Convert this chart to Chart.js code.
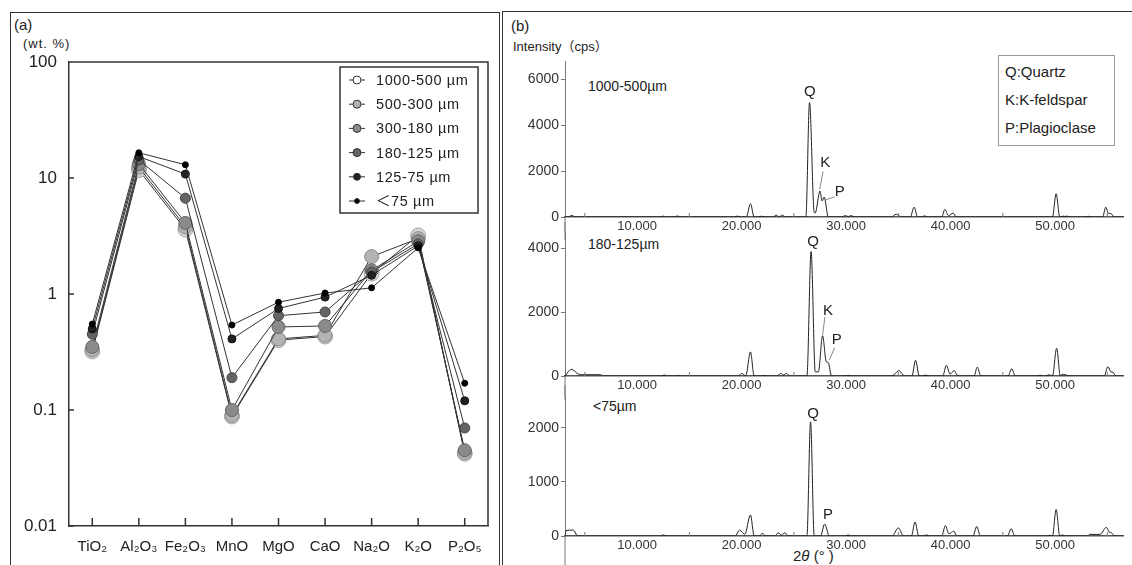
<!DOCTYPE html>
<html>
<head>
<meta charset="utf-8">
<script src="https://cdn.jsdelivr.net/npm/chart.js@4.4.1/dist/chart.umd.min.js"></script>
<style>
  body {
    margin: 0;
    width: 1132px;
    height: 565px;
    overflow: hidden;
    background: #fff;
    position: relative;
    font-family: "Liberation Sans", Arial, "Noto Sans CJK JP", sans-serif;
    color: #222;
  }
  .frame { position: absolute; border: 1.5px solid #333; box-sizing: border-box; }
  .txt { position: absolute; white-space: nowrap; line-height: 1.2; }
  canvas { position: absolute; }
  #xrdKey { position: absolute; left: 998px; top: 55px; width: 117px; height: 91px;
            border: 1px solid #999; box-sizing: border-box; background: #fff; }
</style>
</head>
<body>

<!-- パネル枠 -->
<div class="frame" style="left:10px; top:12px; width:490px; height:600px;"></div>
<div class="frame" style="left:502px; top:11px; width:640px; height:600px;"></div>

<!-- (a) 見出し -->
<div class="txt" style="left:14px; top:16px; font-size:15px;">(a)</div>
<div class="txt" style="left:23px; top:36px; font-size:13px; letter-spacing:1px;">(wt. %)</div>

<!-- (b) 見出し -->
<div class="txt" style="left:511px; top:17px; font-size:15px;">(b)</div>
<div class="txt" style="left:513px; top:39px; font-size:13px;">Intensity（cps）</div>
<div class="txt" style="left:588px; top:78px; font-size:14px;">1000-500µm</div>
<div class="txt" style="left:588px; top:236px; font-size:14px;">180-125µm</div>
<div class="txt" style="left:593px; top:398px; font-size:14px;">&lt;75µm</div>
<div class="txt" style="left:793px; top:547px; font-size:15px;">2<i>θ</i> (° )</div>

<div id="xrdKey">
  <div class="txt" style="left:6px; top:7px; font-size:15px;">Q:Quartz</div>
  <div class="txt" style="left:6px; top:35px; font-size:15px;">K:K-feldspar</div>
  <div class="txt" style="left:6px; top:63px; font-size:15px;">P:Plagioclase</div>
</div>

<canvas id="chartOxide" width="500" height="565" style="left:0; top:0;"></canvas>
<canvas id="chartXrdTop" width="630" height="190" style="left:502px; top:50px;"></canvas>
<canvas id="chartXrdMid" width="630" height="178" style="left:502px; top:222px;"></canvas>
<canvas id="chartXrdLow" width="630" height="180" style="left:502px; top:385px;"></canvas>

<script>
// ------------------------------------------------------
// (a) 粒度別の化学組成（wt.%、対数軸）
// (b) 粒度別の XRD パターン（3 段）
// ------------------------------------------------------

Chart.defaults.font.family = '"Liberation Sans", Arial, "Noto Sans CJK JP", sans-serif'
Chart.defaults.color = '#222'

/* ---------- (a) データ ---------- */

const oxideLabels = ['TiO₂', 'Al₂O₃', 'Fe₂O₃', 'MnO', 'MgO', 'CaO', 'Na₂O', 'K₂O', 'P₂O₅']
const sizeClasses = ['1000-500 µm', '500-300 µm', '300-180 µm', '180-125 µm', '125-75 µm', '＜75 µm']

const wt1000to500 = [0.32, 11.7, 3.6, 0.088, 0.40, 0.43, 1.50, 3.20, 0.042]
const wt500to300 = [0.33, 12.4, 3.8, 0.090, 0.41, 0.44, 2.10, 3.00, 0.043]
const wt300to180 = [0.35, 13.2, 4.1, 0.100, 0.52, 0.53, 1.60, 2.85, 0.045]
const wt180to125 = [0.45, 14.3, 6.7, 0.190, 0.65, 0.70, 1.55, 2.70, 0.070]
const wt125to75 = [0.50, 15.3, 10.8, 0.410, 0.75, 0.94, 1.45, 2.60, 0.120]
const wtBelow75 = [0.55, 16.5, 13.0, 0.540, 0.85, 1.02, 1.13, 2.50, 0.170]

const wtTicks = [0.01, 0.1, 1, 10, 100]
const wtTickLabels = ['0.01', '0.1', '1', '10', '100']

/* ---------- (b) データ：[2θ (°), cps] ---------- */

const xrd1000to500 = [
  [3.1, 0], [3.4, 0], [3.75, 70], [4.1, 0],
  [12.2, 0], [12.5, 40], [12.8, 0],
  [13.5, 0], [13.85, 45], [14.2, 0],
  [19.3, 0], [19.6, 40], [19.9, 0],
  [20.45, 0], [20.85, 580], [21.2, 0],
  [21.6, 0], [21.9, 35], [22.2, 0],
  [23.0, 0], [23.3, 80], [23.6, 10], [23.9, 80], [24.2, 0],
  [26.15, 0], [26.5, 4990], [26.95, 200], [27.05, 180], [27.5, 1130], [27.7, 700], [27.9, 870], [28.3, 0],
  [29.6, 0], [29.9, 60], [30.2, 20], [30.5, 60], [30.8, 0],
  [34.3, 0], [34.8, 120], [35.3, 0],
  [36.15, 0], [36.5, 430], [36.85, 0],
  [37.2, 0], [37.5, 50], [37.8, 0],
  [39.15, 0], [39.45, 330], [39.8, 60], [40.25, 170], [40.55, 0],
  [49.75, 0], [50.1, 1015], [50.45, 0],
  [50.55, 0], [50.75, 40], [50.95, 20], [51.15, 40], [51.35, 0],
  [52.9, 0], [53.2, 30], [53.5, 0],
  [54.55, 0], [54.85, 430], [55.1, 160], [55.35, 150], [55.65, 0],
  [56.5, 0]
]

const xrd180to125 = [
  [3.1, 0], [3.7, 210], [4.4, 60], [4.8, 40], [6.5, 40], [6.8, 0],
  [12.3, 0], [12.6, 30], [12.9, 0],
  [13.7, 0], [13.95, 20], [14.2, 0],
  [19.7, 0], [20.0, 80], [20.4, 10], [20.85, 755], [21.2, 0],
  [21.9, 0], [22.2, 20], [22.5, 0],
  [23.4, 0], [23.75, 80], [24.0, 30], [24.3, 80], [24.6, 0],
  [26.25, 0], [26.65, 3900], [27.05, 130], [27.35, 130], [27.75, 1260], [28.1, 450], [28.3, 420], [28.6, 0],
  [29.9, 0], [30.2, 20], [30.5, 0],
  [34.4, 0], [35.05, 170], [35.6, 0],
  [36.3, 0], [36.65, 490], [37.0, 0],
  [37.3, 0], [37.6, 30], [37.9, 0],
  [39.25, 0], [39.6, 335], [39.95, 60], [40.35, 170], [40.7, 0],
  [42.25, 0], [42.55, 280], [42.9, 0],
  [45.5, 0], [45.85, 230], [46.2, 0],
  [48.3, 0], [48.6, 25], [48.9, 0],
  [49.1, 0], [49.4, 40], [49.75, 0],
  [50.15, 870], [50.5, 0], [50.65, 50], [51.0, 40], [51.3, 0],
  [54.7, 0], [55.05, 290], [55.35, 130], [55.55, 120], [55.8, 0],
  [56.5, 0]
]

const xrdBelow75 = [
  [3.1, 0], [3.2, 100], [3.9, 110], [4.3, 0],
  [12.2, 0], [12.5, 20], [12.8, 0],
  [19.4, 0], [19.8, 110], [20.3, 30], [20.85, 390], [21.2, 0],
  [21.7, 0], [22.0, 50], [22.3, 0],
  [23.2, 0], [23.5, 60], [23.8, 15], [24.15, 60], [24.45, 0],
  [26.25, 0], [26.6, 2110], [26.95, 0],
  [27.55, 0], [27.95, 220], [28.4, 0],
  [29.9, 0], [30.2, 20], [30.5, 0],
  [34.4, 0], [35.0, 150], [35.5, 0],
  [36.25, 0], [36.6, 260], [36.95, 0],
  [37.4, 0], [37.7, 20], [38.0, 0],
  [39.15, 0], [39.5, 190], [39.85, 40], [40.3, 90], [40.6, 0],
  [42.15, 0], [42.5, 175], [42.85, 0],
  [45.45, 0], [45.8, 135], [46.15, 0],
  [49.2, 0], [49.5, 15], [49.75, 0],
  [50.1, 490], [50.45, 0], [50.7, 20], [51.0, 0],
  [53.1, 0], [53.3, 30], [54.3, 30],
  [54.9, 160], [55.2, 70], [55.4, 60], [55.7, 0],
  [56.5, 0]
]

const twoThetaTicks = [5, 10, 15, 20, 25, 30, 35, 40, 45, 50, 55]
const cpsTicksTop = [0, 2000, 4000, 6000]
const cpsTicksMid = [0, 2000, 4000]
const cpsTicksLow = [0, 1000, 2000]

/* ---------- (a) 描画 ---------- */

// 粒度ごとのマーカー（粗いほど大きく淡い）
const sizeStyles = [
  { fill: '#d4d4d4', edge: '#a8a8a8', r: 7.5, legendFill: '#ffffff', legendR: 4 },
  { fill: '#b3b3b3', edge: '#8c8c8c', r: 7, legendFill: '#b3b3b3', legendR: 4 },
  { fill: '#8a8a8a', edge: '#666666', r: 6.5, legendFill: '#8a8a8a', legendR: 4 },
  { fill: '#646464', edge: '#444444', r: 5, legendFill: '#646464', legendR: 4 },
  { fill: '#222222', edge: '#111111', r: 4, legendFill: '#222222', legendR: 3.5 },
  { fill: '#000000', edge: '#000000', r: 3, legendFill: '#000000', legendR: 2.5 }
]
const sizeValues = [wt1000to500, wt500to300, wt300to180, wt180to125, wt125to75, wtBelow75]

// 枠線と内向きの目盛り
const oxideFrame = {
  id: 'oxideFrame',
  afterDraw (chart) {
    const { ctx, chartArea: a, scales: { x, y } } = chart
    ctx.save()
    ctx.strokeStyle = '#333'
    ctx.lineWidth = 1.5
    ctx.beginPath()
    ctx.moveTo(a.left, a.top)
    ctx.lineTo(a.right, a.top)
    ctx.lineTo(a.right, a.bottom)
    x.ticks.forEach((_, i) => {
      const px = x.getPixelForTick(i)
      ctx.moveTo(px, a.bottom)
      ctx.lineTo(px, a.bottom - 8)
    })
    y.ticks.forEach((_, i) => {
      const py = y.getPixelForTick(i)
      ctx.moveTo(a.left, py)
      ctx.lineTo(a.left + 5, py)
    })
    ctx.stroke()
    ctx.restore()
  }
}

// 凡例（線＋丸）
const oxideLegend = {
  id: 'oxideLegend',
  afterDraw (chart) {
    const { ctx, chartArea: a } = chart
    const left = a.right - 148
    const top = a.top + 5
    ctx.save()
    ctx.fillStyle = '#fff'
    ctx.fillRect(left, top, 138, 146)
    ctx.strokeStyle = '#333'
    ctx.lineWidth = 1.5
    ctx.strokeRect(left, top, 138, 146)
    ctx.font = '14.5px "Liberation Sans", Arial, "Noto Sans CJK JP", sans-serif'
    ctx.letterSpacing = '0.6px'
    ctx.textBaseline = 'middle'
    chart.data.datasets.forEach((ds, i) => {
      const st = sizeStyles[i]
      const yy = top + 13 + i * 24.2
      ctx.strokeStyle = '#333'
      ctx.lineWidth = 1
      ctx.beginPath()
      ctx.moveTo(left + 9, yy)
      ctx.lineTo(left + 25, yy)
      ctx.stroke()
      ctx.beginPath()
      ctx.arc(left + 17, yy, st.legendR, 0, Math.PI * 2)
      ctx.fillStyle = st.legendFill
      ctx.fill()
      ctx.strokeStyle = '#333'
      ctx.stroke()
      ctx.fillStyle = '#222'
      ctx.fillText(ds.label, left + 36, yy + 1)
    })
    ctx.restore()
  }
}

new Chart(document.getElementById('chartOxide'), {
  type: 'line',
  data: {
    labels: oxideLabels,
    datasets: sizeClasses.map((label, i) => ({
      label,
      data: sizeValues[i],
      borderColor: '#333',
      borderWidth: 1,
      pointRadius: sizeStyles[i].r,
      pointBackgroundColor: sizeStyles[i].fill,
      pointBorderColor: sizeStyles[i].edge,
      pointBorderWidth: 1,
      order: sizeClasses.length - i
    }))
  },
  options: {
    responsive: false,
    animation: false,
    layout: { padding: { top: 62, right: 12, left: 0, bottom: 0 } },
    plugins: { legend: { display: false }, tooltip: { enabled: false } },
    scales: {
      x: {
        type: 'category',
        offset: true,
        afterFit: (s) => { s.height = 39 },
        grid: { display: false, drawTicks: false },
        border: { display: true, color: '#333', width: 1.5 },
        ticks: { padding: 12, font: { size: 15 }, color: '#222', maxRotation: 0, autoSkip: false }
      },
      y: {
        type: 'logarithmic',
        min: 0.01,
        max: 100,
        afterFit: (s) => { s.width = 69 },
        afterBuildTicks: (s) => { s.ticks = wtTicks.map(v => ({ value: v })) },
        grid: { display: false, drawTicks: false },
        border: { display: true, color: '#333', width: 1.5 },
        ticks: {
          padding: 12,
          font: { size: 17 },
          color: '#222',
          callback: (v) => wtTickLabels[wtTicks.indexOf(v)] ?? ''
        }
      }
    }
  },
  plugins: [oxideFrame, oxideLegend]
})

/* ---------- (b) 描画 ---------- */

// 縦軸の延長・5°ごとの補助目盛り・ピーク記号
function xrdDecor (marks, extendUp) {
  return {
    id: 'xrdDecor',
    afterDraw (chart) {
      const { ctx, chartArea: a, scales: { x, y } } = chart
      ctx.save()
      ctx.strokeStyle = '#777'
      ctx.lineWidth = 1
      ctx.beginPath()
      ctx.moveTo(a.left, a.bottom)
      ctx.lineTo(a.left, chart.height)
      if (extendUp) {
        ctx.moveTo(a.left, 0)
        ctx.lineTo(a.left, a.top)
      }
      twoThetaTicks.filter(v => v % 10 !== 0).forEach(v => {
        const px = x.getPixelForValue(v)
        ctx.moveTo(px, a.bottom)
        ctx.lineTo(px, a.bottom - 4)
      })
      ctx.stroke()

      ctx.font = '15px "Liberation Sans", Arial, sans-serif'
      ctx.fillStyle = '#222'
      ctx.textAlign = 'center'
      ctx.textBaseline = 'middle'
      marks.forEach(m => {
        ctx.fillText(m.text, x.getPixelForValue(m.at[0]), y.getPixelForValue(m.at[1]))
        if (m.leader) {
          ctx.strokeStyle = '#888'
          ctx.beginPath()
          ctx.moveTo(x.getPixelForValue(m.leader[0][0]), y.getPixelForValue(m.leader[0][1]))
          ctx.lineTo(x.getPixelForValue(m.leader[1][0]), y.getPixelForValue(m.leader[1][1]))
          ctx.stroke()
        }
      })
      ctx.restore()
    }
  }
}

function makeXrdChart (canvasId, points, yMax, yTicks, padTop, xAxisHeight, marks, extendUp) {
  return new Chart(document.getElementById(canvasId), {
    type: 'line',
    data: {
      datasets: [{
        data: points.map(([x, y]) => ({ x, y })),
        borderColor: '#222',
        borderWidth: 1,
        pointRadius: 0,
        cubicInterpolationMode: 'monotone'
      }]
    },
    options: {
      responsive: false,
      animation: false,
      layout: { padding: { top: padTop, right: 9, left: 0, bottom: 0 } },
      plugins: { legend: { display: false }, tooltip: { enabled: false } },
      scales: {
        x: {
          type: 'linear',
          min: 3.1,
          max: 56.5,
          afterBuildTicks: (s) => { s.ticks = twoThetaTicks.map(v => ({ value: v })) },
          afterFit: (s) => { s.height = xAxisHeight },
          grid: { display: false, drawTicks: false },
          border: { display: true, color: '#555', width: 1.5 },
          ticks: {
            padding: 2,
            autoSkip: false,
            maxRotation: 0,
            font: { size: 13 },
            color: '#333',
            callback: (v) => (v % 10 === 0 ? v.toFixed(3) : '')
          }
        },
        y: {
          min: 0,
          max: yMax,
          afterBuildTicks: (s) => { s.ticks = yTicks.map(v => ({ value: v })) },
          afterFit: (s) => { s.width = 63 },
          grid: { drawOnChartArea: false, drawTicks: true, tickLength: 4, color: '#777' },
          border: { display: true, color: '#777', width: 1 },
          ticks: { padding: 2, font: { size: 14 }, color: '#333', callback: (v) => String(v) }
        }
      }
    },
    plugins: [xrdDecor(marks, extendUp)]
  })
}

makeXrdChart('chartXrdTop', xrd1000to500, 6800, cpsTicksTop, 11, 23, [
  { text: 'Q', at: [26.54, 5445] },
  { text: 'K', at: [28.0, 2345], leader: [[27.8, 1990], [27.47, 1200]] },
  { text: 'P', at: [29.4, 1090], leader: [[28.9, 880], [28.05, 750]] }
], false)

makeXrdChart('chartXrdMid', xrd180to125, 4500, cpsTicksMid, 10, 24, [
  { text: 'Q', at: [26.83, 4190] },
  { text: 'K', at: [28.26, 2030], leader: [[27.97, 1850], [27.75, 1280]] },
  { text: 'P', at: [29.1, 1125], leader: [[28.9, 885], [28.4, 500]] }
], true)

makeXrdChart('chartXrdLow', xrdBelow75, 2600, cpsTicksLow, 9, 29, [
  { text: 'Q', at: [26.83, 2255] },
  { text: 'P', at: [28.26, 385] }
], true)
</script>
</body>
</html>
